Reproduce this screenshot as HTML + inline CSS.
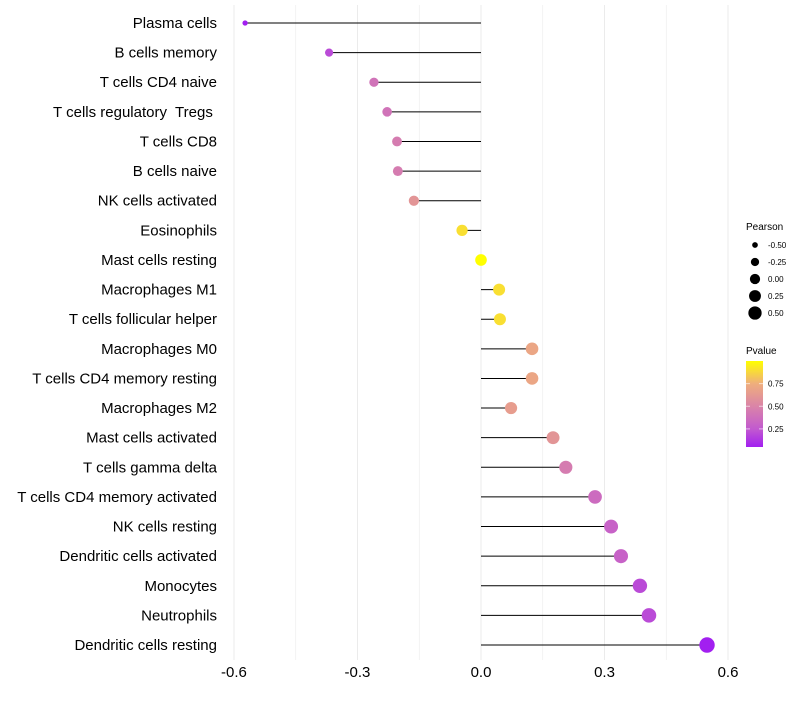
<!DOCTYPE html>
<html><head><meta charset="utf-8"><style>
body{margin:0;background:#fff;font-family:"Liberation Sans",sans-serif}
text{white-space:pre}
</style></head><body>
<svg id="c" width="800" height="700" xmlns="http://www.w3.org/2000/svg"></svg>
<script>
const categories=["Plasma cells","B cells memory","T cells CD4 naive","T cells regulatory  Tregs ","T cells CD8","B cells naive","NK cells activated","Eosinophils","Mast cells resting","Macrophages M1","T cells follicular helper","Macrophages M0","T cells CD4 memory resting","Macrophages M2","Mast cells activated","T cells gamma delta","T cells CD4 memory activated","NK cells resting","Dendritic cells activated","Monocytes","Neutrophils","Dendritic cells resting"];
const pearson=[-0.573,-0.369,-0.26,-0.228,-0.204,-0.202,-0.163,-0.046,0,0.044,0.046,0.124,0.124,0.073,0.175,0.206,0.277,0.316,0.34,0.386,0.408,0.549];
const pvalue=[0.05,0.2,0.4,0.4,0.45,0.45,0.6,0.9,1.0,0.9,0.9,0.7,0.7,0.65,0.6,0.45,0.35,0.3,0.3,0.2,0.2,0.05];
const xTicks=[-0.6,-0.3,0,0.3,0.6];
const sizeLegend=[-0.5,-0.25,0,0.25,0.5];
const pLegend=[0.75,0.5,0.25];
const NS="http://www.w3.org/2000/svg",svg=document.getElementById('c');
function el(t,a,p){const e=document.createElementNS(NS,t);for(const k in a)e.setAttribute(k,a[k]);(p||svg).appendChild(e);return e;}
const x=v=>481+(v)*411.7;
const y=i=>23+i*29.62;
const rad=v=>1.08*Math.sqrt(Math.max(4,29+40*v));
const stops=[[0.05,[162,31,240]],[0.25,[194,90,207]],[0.5,[218,132,168]],[0.75,[239,174,124]],[1,[255,255,0]]];
function col(p){for(let i=0;i<stops.length-1;i++){const[a,ca]=stops[i],[b,cb]=stops[i+1];if(p<=b){const t=Math.max(0,(p-a)/(b-a));return 'rgb('+ca.map((c,j)=>Math.round(c+(cb[j]-c)*t)).join(',')+')';}}return 'rgb(255,255,0)';}
for(let v=-0.6;v<=0.601;v+=0.15){const g=el('line',{x1:x(v),x2:x(v),y1:5,y2:660,stroke:'#ebebeb','stroke-width':Math.abs(Math.round(v/0.3)*0.3-v)<1e-6?1:0.6});}
xTicks.forEach(v=>{const t=el('text',{x:x(v),y:677,'text-anchor':'middle','font-size':15,fill:'#000'});t.textContent=v===0?'0.0':v.toFixed(1);});
categories.forEach((c,i)=>{
 const t=el('text',{x:217,y:y(i)+5,'text-anchor':'end','font-size':15,fill:'#000'});t.textContent=c;
 
 const l=el('line',{x1:x(0),x2:x(pearson[i]),y1:y(i),y2:y(i),stroke:'#000','stroke-width':1});
 
 const d=el('circle',{cx:x(pearson[i]),cy:y(i),r:rad(pearson[i]),fill:col(pvalue[i])});
 
});
let tt=el('text',{x:746,y:230,'font-size':10});tt.textContent='Pearson';
sizeLegend.forEach((v,i)=>{const cy=245+i*17;const c=el('circle',{cx:755,cy:cy,r:rad(v)*0.88,fill:'#000'});
 const t=el('text',{x:768,y:cy+3,'font-size':8});t.textContent=v.toFixed(2);});
tt=el('text',{x:746,y:354,'font-size':10});tt.textContent='Pvalue';
const defs=el('defs',{});const lg=el('linearGradient',{id:'g',x1:0,y1:1,x2:0,y2:0},defs);
stops.forEach(s=>el('stop',{offset:((s[0]-0.05)/0.95),'stop-color':'rgb('+s[1].join(',')+')'},lg));
const bar=el('rect',{x:746,y:361,width:17,height:86,fill:'url(#g)'});
pLegend.forEach(p=>{const yy=361+(1-p)/0.95*86;el('line',{x1:746,x2:750,y1:yy,y2:yy,stroke:'#fff','stroke-opacity':0.6});el('line',{x1:759,x2:763,y1:yy,y2:yy,stroke:'#fff','stroke-opacity':0.6});
 const t=el('text',{x:768,y:yy+3,'font-size':8});t.textContent=p.toFixed(2);});
</script>
</body></html>
